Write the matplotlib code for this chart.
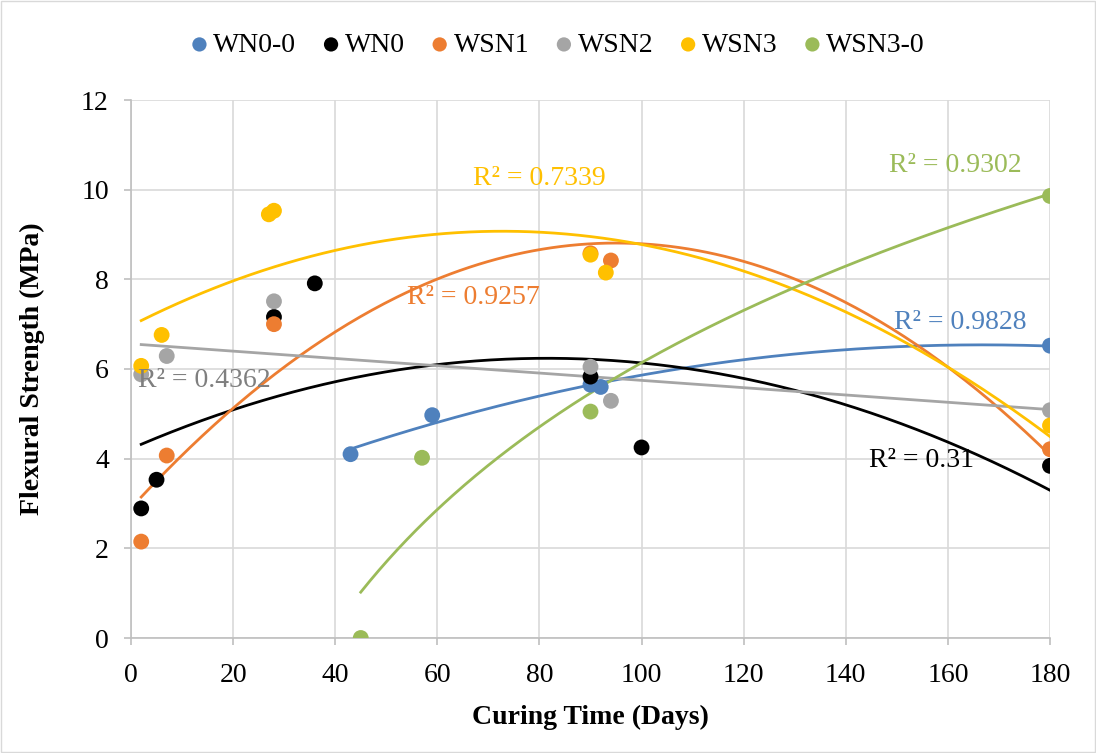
import numpy as np
import matplotlib
matplotlib.use("Agg")
import matplotlib.pyplot as plt
from matplotlib.patches import Rectangle

plt.rcParams["font.family"] = ["Liberation Serif", "DejaVu Serif"]

# Curing time (days) and flexural strength (MPa) per mix
wn00_days = [43, 59, 90, 92, 180]
wn00_mpa = [4.10, 4.97, 5.65, 5.60, 6.52]

wn0_days = [2, 5, 28, 36, 90, 100, 180]
wn0_mpa = [2.89, 3.53, 7.16, 7.91, 5.83, 4.25, 3.84]

wsn1_days = [2, 7, 28, 90, 94, 180]
wsn1_mpa = [2.15, 4.07, 7.00, 8.58, 8.42, 4.21]

wsn2_days = [2, 7, 28, 90, 94, 180]
wsn2_mpa = [5.88, 6.29, 7.51, 6.05, 5.29, 5.08]

wsn3_days = [2, 6, 27, 28, 90, 93, 180]
wsn3_mpa = [6.07, 6.76, 9.45, 9.53, 8.55, 8.15, 4.74]

wsn30_days = [45, 57, 90, 180]
wsn30_mpa = [0.00, 4.02, 5.05, 9.86]

series_names = ["WN0-0", "WN0", "WSN1", "WSN2", "WSN3", "WSN3-0"]
r2_labels = ["R² = 0.9828", "R² = 0.31", "R² = 0.9257", "R² = 0.4362", "R² = 0.7339", "R² = 0.9302"]

colors = ["#4f81bd", "#000000", "#ed7d31", "#a5a5a5", "#ffc000", "#9bbb59"]
label_colors = ["#4f81bd", "#000000", "#ed7d31", "#7f7f7f", "#ffc000", "#9bbb59"]
# trendline type per series: polynomial order, or "log" for a logarithmic fit
fit_kind = [2, 2, 2, 1, 2, "log"]
label_pos = [(149.5, 7.03), (144.5, 3.95), (54.0, 7.6), (1.3, 5.75), (67.0, 10.26), (148.5, 10.53)]

all_days = [wn00_days, wn0_days, wsn1_days, wsn2_days, wsn3_days, wsn30_days]
all_mpa = [wn00_mpa, wn0_mpa, wsn1_mpa, wsn2_mpa, wsn3_mpa, wsn30_mpa]

fig = plt.figure(figsize=(10.96, 7.53), dpi=100)
ax = fig.add_axes([131 / 1096, 1 - 638 / 753, (1050 - 131) / 1096, 538 / 753])

for name, d, m, c, lc, kind, lab, pos in zip(series_names, all_days, all_mpa, colors,
                                              label_colors, fit_kind, r2_labels, label_pos):
    d = np.asarray(d, float)
    m = np.asarray(m, float)
    xs = np.linspace(d.min(), d.max(), 300)
    if kind == "log":
        a, b = np.polyfit(np.log(d), m, 1)
        ys = a * np.log(xs) + b
    else:
        ys = np.polyval(np.polyfit(d, m, kind), xs)
    ax.plot(xs, ys, color=c, lw=2.0, zorder=2)
    ax.scatter(d, m, s=130, color=c, zorder=3, label=name, edgecolors="none")
    ax.text(pos[0], pos[1], lab, color=lc, fontsize=20, ha="left", va="center", zorder=4)

ax.set_xlim(0, 180)
ax.set_ylim(0, 12)
ax.set_xticks(np.arange(0, 181, 20))
ax.set_yticks(np.arange(0, 13, 2))
ax.grid(True, color="#d9d9d9", lw=1.2, zorder=0)
ax.set_axisbelow(True)
for s in ["top", "right"]:
    ax.spines[s].set_visible(False)
for s in ["left", "bottom"]:
    ax.spines[s].set_color("#bfbfbf")
    ax.spines[s].set_linewidth(1.2)
ax.tick_params(axis="both", labelsize=20, color="#bfbfbf", length=5, width=1.2)
ax.tick_params(axis="y", pad=11)
ax.tick_params(axis="x", pad=13)
ax.set_xlabel("Curing Time (Days)", fontsize=20, fontweight="bold", labelpad=12)
ax.set_ylabel("Flexural Strength (MPa)", fontsize=20, fontweight="bold", labelpad=26)

fig.legend(loc="center", bbox_to_anchor=(558 / 1096, 1 - 45 / 753), ncol=6, frameon=False,
           fontsize=20, handlelength=0.6, handletextpad=0.2, columnspacing=0.95,
           markerscale=0.9)

fig.add_artist(Rectangle((0.001, 0.001), 0.998, 0.998, transform=fig.transFigure,
                         fill=False, edgecolor="#d9d9d9", lw=1.0))

fig.savefig("out.png", dpi=100)
